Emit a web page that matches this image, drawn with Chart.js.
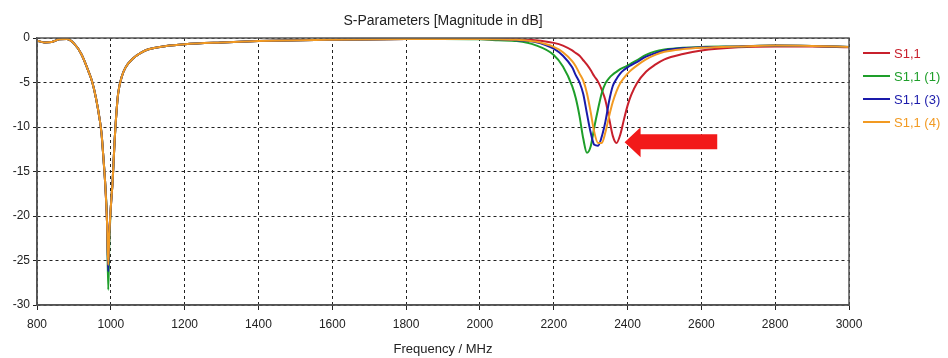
<!DOCTYPE html>
<html>
<head>
<meta charset="utf-8">
<script src="https://cdn.jsdelivr.net/npm/chart.js@4.4.1/dist/chart.umd.min.js"></script>
<style>
  html, body { margin: 0; padding: 0; background: #fff; }
  #wrap { width: 948px; height: 358px; position: relative; }
</style>
</head>
<body>
<div id="wrap"><canvas id="sparams"></canvas></div>
<script>
// frequency sweep, MHz
const freqMHz = [
  800, 820, 840, 860, 880, 900, 920, 940, 950, 960, 970, 975, 980, 985, 990, 993, 996,
  1000, 1005, 1010, 1015, 1020, 1030, 1040, 1060, 1080, 1100, 1150, 1200, 1300, 1400, 1600, 1800,
  1900, 2000, 2050, 2100, 2150, 2200, 2225, 2250, 2260, 2270, 2280, 2290, 2300, 2310, 2320, 2330,
  2340, 2350, 2360, 2370, 2380, 2390, 2400, 2410, 2425, 2450, 2475, 2500, 2550, 2600, 2700, 2800, 2900, 3000
];

// |S11| in dB for each run
const s11 = [
  -0.3, -0.5, -0.45, -0.15, -0.1, -0.6, -1.8, -3.8, -5.0, -6.8, -9.2, -10.8, -13.5, -16.5, -21, -25.6, -22,
  -19, -16, -11.8, -8.5, -6.2, -4.3, -3.3, -2.3, -1.7, -1.3, -0.9, -0.7, -0.5, -0.35, -0.2, -0.12,
  -0.05, -0.1, -0.1, -0.15, -0.25, -0.55, -0.85, -1.4, -1.7, -2.0, -2.5, -3.0, -3.6, -4.3, -4.9, -5.8,
  -7.0, -9.0, -11.0, -11.8, -10.9, -9.2, -7.6, -6.4, -5.1, -3.8, -3.0, -2.4, -1.8, -1.4, -1.05, -0.95, -0.95, -1.05
];
const s11Run1 = [
  -0.3, -0.5, -0.45, -0.15, -0.1, -0.6, -1.8, -3.8, -5.0, -6.8, -9.2, -10.8, -13.5, -16.5, -21, -28.3, -23,
  -19, -16, -11.8, -8.5, -6.2, -4.3, -3.3, -2.3, -1.7, -1.3, -0.9, -0.7, -0.5, -0.35, -0.2, -0.12,
  -0.1, -0.15, -0.25, -0.35, -0.8, -1.9, -3.2, -5.4, -6.8, -8.8, -11.3, -12.9, -12.2, -10.0, -8.0, -6.2,
  -5.1, -4.5, -4.1, -3.8, -3.5, -3.3, -3.1, -2.85, -2.5, -1.9, -1.5, -1.3, -1.1, -1.0, -0.95, -0.85, -0.9, -1.0
];
const s11Run3 = [
  -0.3, -0.5, -0.45, -0.15, -0.1, -0.6, -1.8, -3.8, -5.0, -6.8, -9.2, -10.8, -13.5, -16.5, -21, -26.2, -22,
  -19, -16, -11.8, -8.5, -6.2, -4.3, -3.3, -2.3, -1.7, -1.3, -0.9, -0.7, -0.5, -0.35, -0.2, -0.12,
  -0.1, -0.1, -0.15, -0.25, -0.45, -1.2, -2.0, -3.3, -4.2, -5.0, -6.3, -8.5, -10.6, -12.0, -12.1, -11.1,
  -9.4, -7.1, -5.4, -4.6, -4.0, -3.6, -3.3, -3.05, -2.7, -2.1, -1.7, -1.4, -1.15, -1.05, -0.95, -0.85, -0.9, -1.0
];
const s11Run4 = [
  -0.3, -0.5, -0.45, -0.15, -0.1, -0.6, -1.8, -3.8, -5.0, -6.8, -9.2, -10.8, -13.5, -16.5, -21, -25.5, -22,
  -19, -16, -11.8, -8.5, -6.2, -4.3, -3.3, -2.3, -1.7, -1.3, -0.9, -0.7, -0.5, -0.35, -0.2, -0.12,
  -0.1, -0.1, -0.15, -0.2, -0.4, -1.0, -1.6, -2.6, -3.2, -4.0, -4.8, -6.2, -8.3, -10.6, -11.8, -11.8,
  -10.6, -8.8, -7.2, -6.0, -5.1, -4.5, -4.0, -3.6, -3.1, -2.4, -1.9, -1.55, -1.25, -1.1, -0.95, -0.85, -0.9, -1.0
];

const seriesNames = ["S1,1", "S1,1 (1)", "S1,1 (3)", "S1,1 (4)"];
const seriesColors = ["#c8202c", "#1e9e2a", "#1a1aaa", "#f29a22"];
const seriesValues = [s11, s11Run1, s11Run3, s11Run4];
// orange run sits on top, red underneath
const drawOrder = [3, 2, 1, 0];

const xTicks = [800, 1000, 1200, 1400, 1600, 1800, 2000, 2200, 2400, 2600, 2800, 3000];
const yTicks = [0, -5, -10, -15, -20, -25, -30];

// marker arrow pointing at the shifted resonance (MHz, dB)
const arrowTip = [2392, -11.7];
const arrowTail = 2643;

const FONT = "'Liberation Sans', Arial, sans-serif";

const datasets = seriesNames.map((name, i) => ({
  label: name,
  data: freqMHz.map((f, j) => ({ x: f, y: seriesValues[i][j] })),
  borderColor: seriesColors[i],
  borderWidth: 2,
  pointRadius: 0,
  fill: false,
  cubicInterpolationMode: "monotone",
  order: drawOrder[i]
}));

const extras = {
  id: "extras",
  afterDraw(chart) {
    const ctx = chart.ctx;
    const area = chart.chartArea;
    const xs = chart.scales.x, ys = chart.scales.y;
    ctx.save();

    // plot frame
    ctx.strokeStyle = "#555";
    ctx.lineWidth = 1.5;
    ctx.strokeRect(area.left, area.top, area.right - area.left, area.bottom - area.top);

    // title
    ctx.fillStyle = "#222";
    ctx.font = "14px " + FONT;
    ctx.textAlign = "center";
    ctx.textBaseline = "middle";
    ctx.fillText("S-Parameters [Magnitude in dB]", (area.left + area.right) / 2, 21);

    // legend
    ctx.font = "13px " + FONT;
    ctx.textAlign = "left";
    const legendY = [53, 76, 99, 122];
    seriesNames.forEach((name, i) => {
      ctx.strokeStyle = seriesColors[i];
      ctx.lineWidth = 2;
      ctx.beginPath();
      ctx.moveTo(863, legendY[i]);
      ctx.lineTo(890, legendY[i]);
      ctx.stroke();
      ctx.fillStyle = seriesColors[i];
      ctx.fillText(name, 894, legendY[i] + 1);
    });

    // arrow
    const tx = xs.getPixelForValue(arrowTip[0]);
    const ty = ys.getPixelForValue(arrowTip[1]);
    const ex = xs.getPixelForValue(arrowTail);
    const hx = tx + 16;
    ctx.fillStyle = "#f21a1a";
    ctx.beginPath();
    ctx.moveTo(tx, ty);
    ctx.lineTo(hx, ty - 15);
    ctx.lineTo(hx, ty - 8);
    ctx.lineTo(ex, ty - 8);
    ctx.lineTo(ex, ty + 7);
    ctx.lineTo(hx, ty + 7);
    ctx.lineTo(hx, ty + 15);
    ctx.closePath();
    ctx.fill();

    ctx.restore();
  }
};

new Chart(document.getElementById("sparams"), {
  type: "line",
  data: { datasets: datasets },
  options: {
    responsive: true,
    maintainAspectRatio: false,
    animation: false,
    layout: { padding: { top: 38, right: 99, left: 0, bottom: 0 } },
    plugins: {
      legend: { display: false },
      tooltip: { enabled: false },
      title: { display: false }
    },
    scales: {
      x: {
        type: "linear",
        min: 800,
        max: 3000,
        afterBuildTicks: (axis) => { axis.ticks = xTicks.map(v => ({ value: v })); },
        afterFit: (axis) => { axis.height = 53; },
        ticks: { color: "#222", font: { family: FONT, size: 12 }, padding: 7, maxRotation: 0, callback: (v) => String(v) },
        grid: { color: "#222", lineWidth: 1, tickLength: 5 },
        border: { display: true, color: "#555", width: 1.5, dash: [3, 3] },
        title: { display: true, text: "Frequency / MHz", color: "#222", font: { family: FONT, size: 13 }, padding: { top: 2, bottom: 1 } }
      },
      y: {
        min: -30,
        max: 0,
        afterBuildTicks: (axis) => { axis.ticks = yTicks.map(v => ({ value: v })); },
        afterFit: (axis) => { axis.width = 37; },
        ticks: { color: "#222", font: { family: FONT, size: 12 }, padding: 3, callback: (v) => String(v) },
        grid: { color: "#222", lineWidth: 1, tickLength: 4 },
        border: { display: true, color: "#555", width: 1.5, dash: [3, 3] }
      }
    }
  },
  plugins: [extras]
});
</script>
</body>
</html>
